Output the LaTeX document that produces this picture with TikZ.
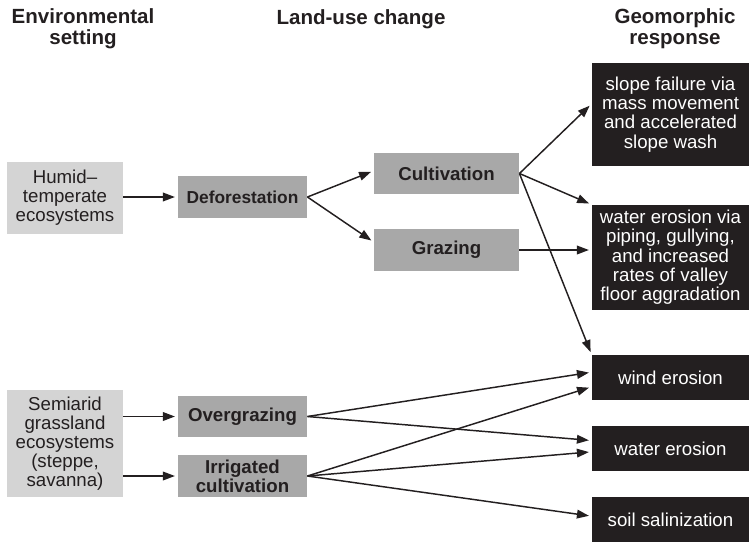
\documentclass[tikz,border=0pt]{standalone}
\usepackage{fontspec}
\setmainfont{Liberation Sans}
\usetikzlibrary{arrows.meta,positioning,calc}
\definecolor{envgray}{gray}{0.83}
\definecolor{landgray}{gray}{0.66}
\definecolor{inkblack}{HTML}{231F20}

\begin{document}
\begin{tikzpicture}[
  x=0.75pt, y=-0.75pt,
  head/.style={font=\fontsize{15.4}{15.75}\selectfont\bfseries, align=center, text=inkblack},
  envbox/.style={fill=envgray, minimum width=87pt, inner sep=0pt, align=center,
                 text=inkblack, font=\fontsize{14}{14.3}\selectfont},
  landbox/.style={fill=landgray, minimum height=31pt, inner sep=0pt, align=center,
                  text=inkblack, font=\fontsize{14}{14.3}\selectfont\bfseries},
  respbox/.style={fill=inkblack, minimum width=118pt, inner sep=0pt, align=center,
                  text=white, font=\fontsize{14}{14.5}\selectfont},
  arr/.style={-{Triangle[length=9pt,width=6.5pt]}, line width=1.1pt, draw=inkblack,
              shorten >=2pt},
]
\useasboundingbox (0,0) rectangle (749,543);

% Column headings
\node[head] (hEnv) at (83,29) {Environmental\\setting};
\node[head] (hLand) at (361,19) {Land-use change};
\node[head] (hGeo) at (675,29) {Geomorphic\\response};

% Environmental settings
\node[envbox, minimum height=54pt] (hum) at (65,198) {Humid--\\temperate\\ecosystems};
\node[envbox, minimum height=80pt] (semi) at (65,443.5) {Semiarid\\grassland\\ecosystems\\(steppe,\\savanna)};

% Land-use changes
\node[landbox, minimum width=97pt, font=\fontsize{13}{14.3}\selectfont\bfseries] (defor) at (242.5,197) {Deforestation};
\node[landbox, minimum width=109pt] (cult) at (446.5,173.5) {Cultivation};
\node[landbox, minimum width=109pt] (graz) at (446.5,250) {Grazing};
\node[landbox, minimum width=97pt] (overg) at (242.5,416.5) {Overgrazing};
\node[landbox, minimum width=97pt] (irrig) at (242.5,476) {Irrigated\\cultivation};

% Geomorphic responses
\node[respbox, minimum height=77pt] (slope) at (670.5,114.5) {slope failure via\\mass movement\\and accelerated\\slope wash};
\node[respbox, minimum height=79pt] (waterv) at (670.5,257.5) {water erosion via\\piping, gullying,\\and increased\\rates of valley\\floor aggradation};
\node[respbox, minimum height=34pt] (wind) at (670.5,377.5) {wind erosion};
\node[respbox, minimum height=34pt] (water) at (670.5,448.5) {water erosion};
\node[respbox, minimum height=34pt] (salin) at (670.5,519.5) {soil salinization};

% Humid branch
\draw[arr] (hum.east |- defor.west) -- (defor.west);
\draw[arr] (defor.east) -- ([yshift=2pt]cult.west);
\draw[arr] (defor.east) -- ([yshift=6pt]graz.west);
\draw[arr] (cult.east) -- ([yshift=8pt]slope.west);
\draw[arr] (cult.east) -- (waterv.north west);
\draw[arr] (cult.east) -- (wind.north west);
\draw[arr] (graz.east) -- (graz.east -| waterv.west);

% Semiarid branch
\draw[arr] (semi.east |- overg.west) -- (overg.west);
\draw[arr] (semi.east |- irrig.west) -- (irrig.west);
\draw[arr] (overg.east) -- ([yshift=4pt]wind.west);
\draw[arr] (overg.east) -- ([yshift=6pt]water.west);
\draw[arr] (irrig.east) -- ([yshift=-7pt]wind.west);
\draw[arr] (irrig.east) -- ([yshift=-2.5pt]water.west);
\draw[arr] (irrig.east) -- ([yshift=2.5pt]salin.west);
\end{tikzpicture}
\end{document}
